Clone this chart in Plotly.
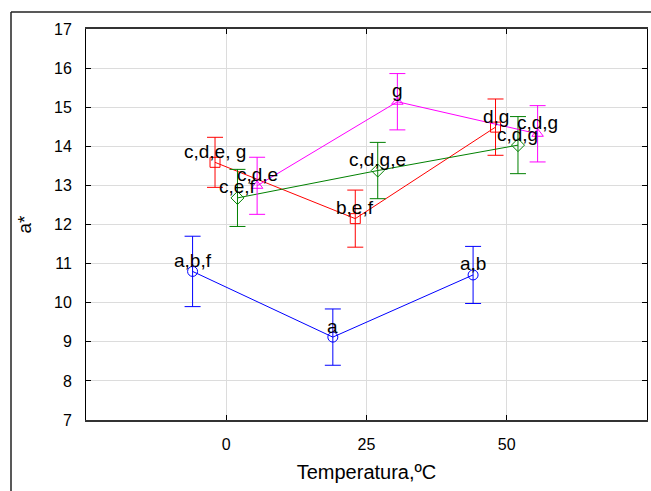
import plotly.graph_objects as go

# Temperatures (ºC) and the four measured series of a*
temperatures = [0, 25, 50]

blue_mean = [10.80, 9.12, 10.71]
blue_err = [0.90, 0.72, 0.73]
blue_labels = ["a,b,f", "a", "a,b"]

red_mean = [13.59, 12.15, 14.49]
red_err = [0.64, 0.73, 0.72]
red_labels = ["c,d,e, g", "b,e,f", "d,g"]

green_mean = [12.68, 13.38, 14.03]
green_err = [0.73, 0.72, 0.73]
green_labels = ["c,e,f", "c,d,g,e", "c,d,g"]

magenta_mean = [12.99, 15.14, 14.32]
magenta_err = [0.73, 0.72, 0.72]
magenta_labels = ["c,d,e", "g", "c,d,g"]

y_ticks = list(range(7, 18))
x_ticks = [0, 25, 50]

FONT = "Liberation Sans, Arial, sans-serif"

series = [
    ("S1", blue_mean, blue_err, blue_labels, "#0000ff", "circle-open", -6.0),
    ("S2", red_mean, red_err, red_labels, "#ff0000", "square-open", -2.0),
    ("S3", green_mean, green_err, green_labels, "#008000", "diamond-open", 2.0),
    ("S4", magenta_mean, magenta_err, magenta_labels, "#ff00ff", "triangle-up-open", 5.5),
]

fig = go.Figure()
annotations = []
for name, mean, err, labels, color, symbol, dodge in series:
    xs = [t + dodge for t in temperatures]
    fig.add_trace(go.Scatter(
        x=xs, y=mean, name=name, mode="lines+markers",
        line=dict(color=color, width=1),
        marker=dict(symbol=symbol, size=10, color=color, line=dict(color=color, width=1)),
        error_y=dict(type="data", array=err, visible=True, color=color, thickness=1, width=8),
        showlegend=False,
    ))
    for x, y, lab in zip(xs, mean, labels):
        annotations.append(dict(
            x=x, y=y, xref="x", yref="y", text=lab, showarrow=False,
            xanchor="center", yanchor="middle", yshift=11,
            font=dict(family=FONT, size=19, color="black"),
        ))

# Outer frame lines (left and top) around the whole graph
L, R, T, B = 86, 4, 29, 71
W, H = 651, 491
pw, ph = W - L - R, H - T - B
def px_to_paper_x(px):
    return (px - L) / pw
def px_to_paper_y(py):
    return (H - B - py) / ph

shapes = [
    dict(type="line", xref="paper", yref="paper",
         x0=px_to_paper_x(11), x1=px_to_paper_x(11),
         y0=px_to_paper_y(495), y1=px_to_paper_y(12),
         line=dict(color="#222222", width=1.5)),
    dict(type="line", xref="paper", yref="paper",
         x0=px_to_paper_x(11), x1=px_to_paper_x(655),
         y0=px_to_paper_y(12), y1=px_to_paper_y(12),
         line=dict(color="#222222", width=1.5)),
]

fig.update_layout(
    width=W, height=H,
    margin=dict(l=L, r=R, t=T, b=B, pad=0),
    paper_bgcolor="white", plot_bgcolor="white",
    font=dict(family=FONT, color="black"),
    annotations=annotations,
    shapes=shapes,
    xaxis=dict(
        range=[-25, 75], tickvals=x_ticks, ticktext=[str(v) for v in x_ticks],
        showgrid=True, gridcolor="#dcdcdc", gridwidth=1, zeroline=False,
        showline=True, linecolor="#333333", linewidth=1.5, mirror="allticks",
        ticks="inside", ticklen=5, tickcolor="black",
        tickfont=dict(size=16), ticklabelstandoff=9,
        title=dict(text="Temperatura,ºC", font=dict(size=20), standoff=13),
    ),
    yaxis=dict(
        range=[7, 17], tickvals=y_ticks, ticktext=[str(v) for v in y_ticks],
        showgrid=True, gridcolor="#dcdcdc", gridwidth=1, zeroline=False,
        showline=True, linecolor="black", linewidth=1, mirror="allticks",
        ticks="inside", ticklen=5, tickcolor="black",
        tickfont=dict(size=16), ticklabelstandoff=10,
        title=dict(text="a*", font=dict(size=19), standoff=17),
    ),
)

fig.write_html("out.html")
